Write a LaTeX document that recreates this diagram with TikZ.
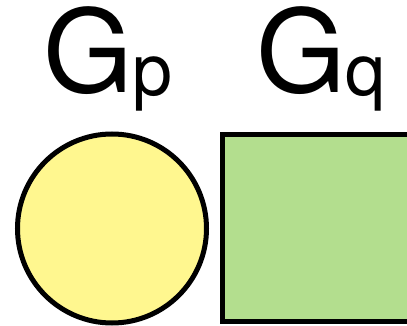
\documentclass[tikz,border=0pt]{standalone}
\usepackage{fontspec}
\setmainfont{TeX Gyre Heros}
\usepackage{xcolor}
\usepackage{tikz}
\definecolor{INK}{HTML}{000000}
\definecolor{YEL}{HTML}{FFF78F}
\definecolor{GRN}{HTML}{B3DE8E}
\newcommand{\lowsub}[1]{{\fontsize{72}{76}\selectfont\raisebox{-3pt}{#1}}}

\begin{document}
\begin{tikzpicture}[
  x=1pt, y=-1pt,
  big/.style={font=\fontsize{115}{120}\selectfont, text=INK, inner sep=0pt, anchor=base west},
  roundgraph/.style={circle, fill=YEL, draw=INK, line width=5pt, inner sep=0pt, minimum size=189pt},
  boxgraph/.style={rectangle, fill=GRN, draw=INK, line width=5pt, inner sep=0pt, minimum size=187pt},
]
\useasboundingbox (0,0) rectangle (407,326);

% labels
\node[big] (gp) at (43, 93) {G\lowsub{p}};
\node[big] (gq) at (256, 93) {G\lowsub{q}};

% the two graphs
\node[roundgraph] (circp) at (112, 228.5) {};
\node[boxgraph] (boxq) at (316, 228) {};

\end{tikzpicture}
\end{document}
